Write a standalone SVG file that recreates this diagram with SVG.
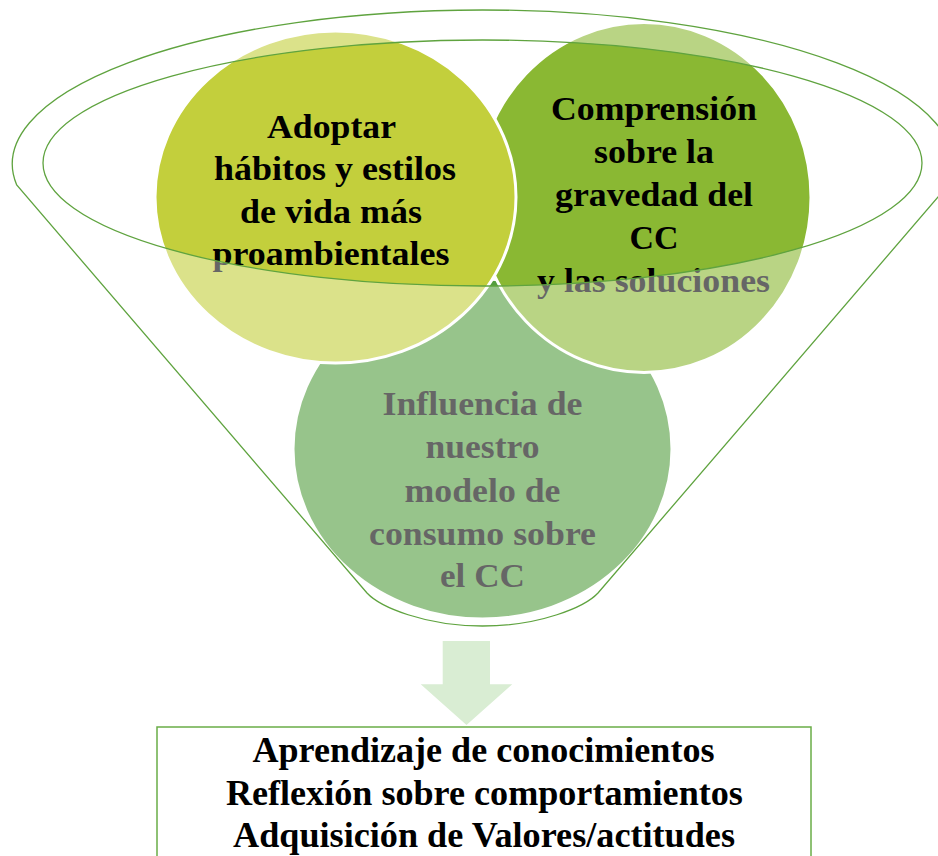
<svg xmlns="http://www.w3.org/2000/svg" width="938" height="856" viewBox="0 0 938 856">
<style>
.t{font-family:"Liberation Serif","Times New Roman",serif;font-weight:bold;font-size:34px;fill:#000;text-anchor:middle}
.bt{font-family:"Liberation Serif","Times New Roman",serif;font-weight:bold;font-size:35px;fill:#000;text-anchor:middle}
.c{stroke:#fff;stroke-width:3}
.ln{fill:none;stroke:#5FA33F;stroke-width:1.3}
</style>
<rect width="938" height="856" fill="#fff"/>
<g id="circle3">
<ellipse class="c" cx="482.5" cy="449" rx="189.5" ry="170" fill="#539D3E"/>
<text class="t" x="482.5" y="415" textLength="200" lengthAdjust="spacingAndGlyphs">Influencia de</text>
<text class="t" x="482.5" y="458" textLength="114" lengthAdjust="spacingAndGlyphs">nuestro</text>
<text class="t" x="482.5" y="501.5" textLength="156" lengthAdjust="spacingAndGlyphs">modelo de</text>
<text class="t" x="482.5" y="545" textLength="227" lengthAdjust="spacingAndGlyphs">consumo sobre</text>
<text class="t" x="482.5" y="587" textLength="85" lengthAdjust="spacingAndGlyphs">el CC</text>
</g>
<g id="circle2">
<ellipse class="c" cx="644" cy="197.5" rx="167" ry="175" fill="#8AB833"/>
<text class="t" x="654" y="120" textLength="206" lengthAdjust="spacingAndGlyphs">Comprensión</text>
<text class="t" x="654" y="163" textLength="120" lengthAdjust="spacingAndGlyphs">sobre la</text>
<text class="t" x="654" y="206" textLength="198" lengthAdjust="spacingAndGlyphs">gravedad del</text>
<text class="t" x="654" y="249" textLength="49" lengthAdjust="spacingAndGlyphs">CC</text>
<text class="t" x="653.5" y="292" textLength="233" lengthAdjust="spacingAndGlyphs">y las soluciones</text>
</g>
<g id="circle1">
<ellipse class="c" cx="335.5" cy="197" rx="180.5" ry="166" fill="#C3CF3C"/>
<text class="t" x="331.5" y="137.5" textLength="129" lengthAdjust="spacingAndGlyphs">Adoptar</text>
<text class="t" x="335" y="180" textLength="242" lengthAdjust="spacingAndGlyphs">hábitos y estilos</text>
<text class="t" x="331" y="223" textLength="182" lengthAdjust="spacingAndGlyphs">de vida más</text>
<text class="t" x="331" y="265" textLength="237" lengthAdjust="spacingAndGlyphs">proambientales</text>
</g>
<g id="funnel">
<path d="M16.7,185 A470.2,154 0 1 1 948.3,185 L598,593 C585,607 540,626 482.5,626 S380,607 367,593 Z M43,163 A439.5,123 0 1 0 922,163 A439.5,123 0 1 0 43,163 Z" fill="#fff" fill-opacity="0.4" fill-rule="evenodd" stroke="#5FA33F" stroke-width="1.3"/>
</g>
<g id="connectors">
<polygon id="arrow" points="442.7,641 490,641 490,684.3 512.3,684.3 466.5,725 420.7,684.3 442.7,684.3" fill="#D9EDD3"/>
</g>
<g id="result">
<rect x="157" y="727" width="654" height="140" fill="#fff" stroke="#6AAD47" stroke-width="1.5"/>
<text class="bt" x="483.5" y="761.5" textLength="462" lengthAdjust="spacingAndGlyphs">Aprendizaje de conocimientos</text>
<text class="bt" x="484.4" y="805" textLength="517" lengthAdjust="spacingAndGlyphs">Reflexión sobre comportamientos</text>
<text class="bt" x="484" y="846.5" textLength="502" lengthAdjust="spacingAndGlyphs">Adquisición de Valores/actitudes</text>
</g>
</svg>
